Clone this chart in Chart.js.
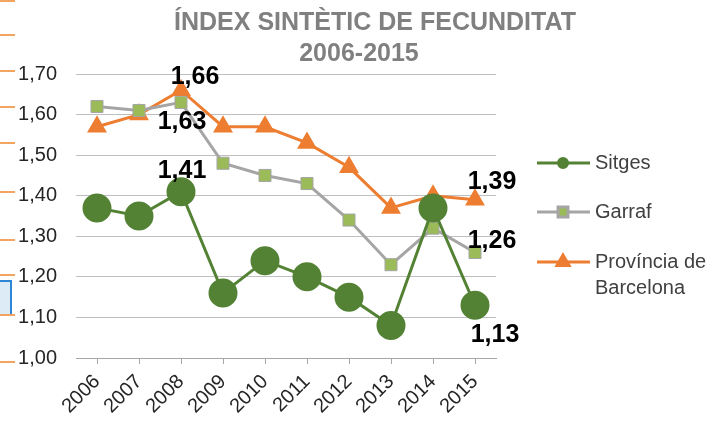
<!DOCTYPE html>
<html>
<head>
<meta charset="utf-8">
<script src="https://cdn.jsdelivr.net/npm/chart.js@4.4.1/dist/chart.umd.min.js"></script>
<style>
  body { margin: 0; background: #fff; }
  #wrap { position: relative; width: 714px; height: 421px; overflow: hidden; font-family: "Liberation Sans", Arial, sans-serif; }
  #myChart { position: absolute; left: 0; top: 0; }
  .title { position: absolute; font-weight: bold; font-size: 25px; color: #808080; white-space: nowrap; transform: translateX(-50%); line-height: 1; }
  .mark { position: absolute; left: 0; width: 15px; height: 2px; background: #f2a460; }
  .cellbox { position: absolute; left: -2px; top: 280px; width: 10px; height: 32px; background: #ddebf7; border: 2px solid #2e86d4; }
</style>
</head>
<body>
<div id="wrap">
  <canvas id="myChart" width="714" height="421"></canvas>
  <div class="title" style="left:375px; top:9px;">ÍNDEX SINTÈTIC DE FECUNDITAT</div>
  <div class="title" style="left:359px; top:40px;">2006-2015</div>
  <div class="cellbox"></div>
</div>
<script>
// years and series
const years = ['2006', '2007', '2008', '2009', '2010', '2011', '2012', '2013', '2014', '2015'];
const sitges = [1.37, 1.35, 1.41, 1.16, 1.24, 1.20, 1.15, 1.08, 1.37, 1.13];
const garraf = [1.62, 1.61, 1.63, 1.48, 1.45, 1.43, 1.34, 1.23, 1.32, 1.26];
const provincia = [1.57, 1.60, 1.66, 1.57, 1.57, 1.53, 1.47, 1.37, 1.40, 1.39];
const seriesNames = ['Sitges', 'Garraf', ['Província de', 'Barcelona']];
const yTicks = [1.00, 1.10, 1.20, 1.30, 1.40, 1.50, 1.60, 1.70];

// orange marks down the left edge
const edgeMarks = [1, 35, 71, 107, 143, 192, 240, 275, 315, 362];
const wrap = document.getElementById('wrap');
edgeMarks.forEach(y => {
    const d = document.createElement('div');
    d.className = 'mark';
    d.style.top = (y - 1) + 'px';
    wrap.appendChild(d);
});

const fmt = v => v.toFixed(2).replace('.', ',');

// which points get a value label, with label offsets
const valueLabels = [
    { ds: 2, i: 2, dx: 14, dy: -13 },
    { ds: 1, i: 2, dx: 1, dy: 20 },
    { ds: 0, i: 2, dx: 1, dy: -21 },
    { ds: 2, i: 9, dx: 17, dy: -18 },
    { ds: 1, i: 9, dx: 17, dy: -11 },
    { ds: 0, i: 9, dx: 20, dy: 30 }
];

const labelPlugin = {
    id: 'valueLabels',
    afterDatasetsDraw(chart) {
        const ctx = chart.ctx;
        ctx.save();
        ctx.font = 'bold 25px "Liberation Sans", Arial, sans-serif';
        ctx.fillStyle = '#000';
        ctx.textAlign = 'center';
        ctx.textBaseline = 'middle';
        valueLabels.forEach(l => {
            const pt = chart.getDatasetMeta(l.ds).data[l.i];
            const v = chart.data.datasets[l.ds].data[l.i];
            ctx.fillText(fmt(v), pt.x + l.dx, pt.y + l.dy);
        });
        ctx.restore();
    }
};

// legend on the right, drawn with the datasets' own styles
const legendPlugin = {
    id: 'sideLegend',
    afterDraw(chart) {
        const ctx = chart.ctx;
        const rows = [163, 212, 262];
        ctx.save();
        ctx.font = '20px "Liberation Sans", Arial, sans-serif';
        ctx.textBaseline = 'middle';
        chart.data.datasets.forEach((ds, k) => {
            const y = rows[k];
            ctx.strokeStyle = ds.borderColor;
            ctx.lineWidth = 3;
            ctx.beginPath();
            ctx.moveTo(537, y);
            ctx.lineTo(590, y);
            ctx.stroke();
            ctx.fillStyle = ds.pointBackgroundColor;
            ctx.strokeStyle = ds.pointBorderColor;
            Chart.helpers.drawPoint(ctx, {
                pointStyle: ds.pointStyle, rotation: 0,
                radius: ds.legendRadius, borderWidth: 1
            }, 563, y);
            ctx.fillStyle = '#404040';
            const name = seriesNames[k];
            const lines = Array.isArray(name) ? name : [name];
            lines.forEach((t, j) => ctx.fillText(t, 595, y + j * 26));
        });
        ctx.restore();
    }
};

const ctx = document.getElementById('myChart').getContext('2d');
const myChart = new Chart(ctx, {
    type: 'line',
    data: {
        labels: years,
        datasets: [{
            label: 'Sitges',
            data: sitges,
            borderColor: '#548235',
            borderWidth: 3,
            pointStyle: 'circle',
            pointRadius: 13,
            pointBackgroundColor: '#548235',
            pointBorderColor: '#548235',
            legendRadius: 4.5,
            tension: 0
        }, {
            label: 'Garraf',
            data: garraf,
            borderColor: '#a5a5a5',
            borderWidth: 3,
            pointStyle: 'rect',
            pointRadius: 8.5,
            pointBorderWidth: 1,
            pointBackgroundColor: '#9bbb59',
            pointBorderColor: '#a5a5a5',
            legendRadius: 7,
            tension: 0
        }, {
            label: 'Província de Barcelona',
            data: provincia,
            borderColor: '#ed7d31',
            borderWidth: 3,
            pointStyle: 'triangle',
            pointRadius: 8.5,
            pointBackgroundColor: '#ed7d31',
            pointBorderColor: '#ed7d31',
            legendRadius: 7,
            tension: 0
        }]
    },
    options: {
        responsive: false,
        animation: false,
        layout: { padding: { left: 0, top: 74, right: 218, bottom: 0 } },
        plugins: {
            legend: { display: false },
            title: { display: false },
            tooltip: { enabled: false }
        },
        scales: {
            x: {
                offset: true,
                afterFit: s => { s.height = 63; },
                border: { display: true, color: '#a6a6a6', width: 1 },
                grid: { drawOnChartArea: false, drawTicks: true, tickLength: 6, color: '#a6a6a6' },
                ticks: {
                    autoSkip: false, minRotation: 45, maxRotation: 45,
                    padding: 6, color: '#262626',
                    font: { family: '"Liberation Sans", Arial, sans-serif', size: 20 }
                }
            },
            y: {
                min: yTicks[0],
                max: yTicks[yTicks.length - 1],
                afterFit: s => { s.width = 76; },
                afterBuildTicks: s => { s.ticks = yTicks.map(v => ({ value: v })); },
                border: { display: false },
                grid: { color: '#bfbfbf', drawTicks: false },
                ticks: {
                    padding: 19, color: '#262626',
                    font: { family: '"Liberation Sans", Arial, sans-serif', size: 20 },
                    callback: v => fmt(v)
                }
            }
        }
    },
    plugins: [labelPlugin, legendPlugin]
});
</script>
</body>
</html>
